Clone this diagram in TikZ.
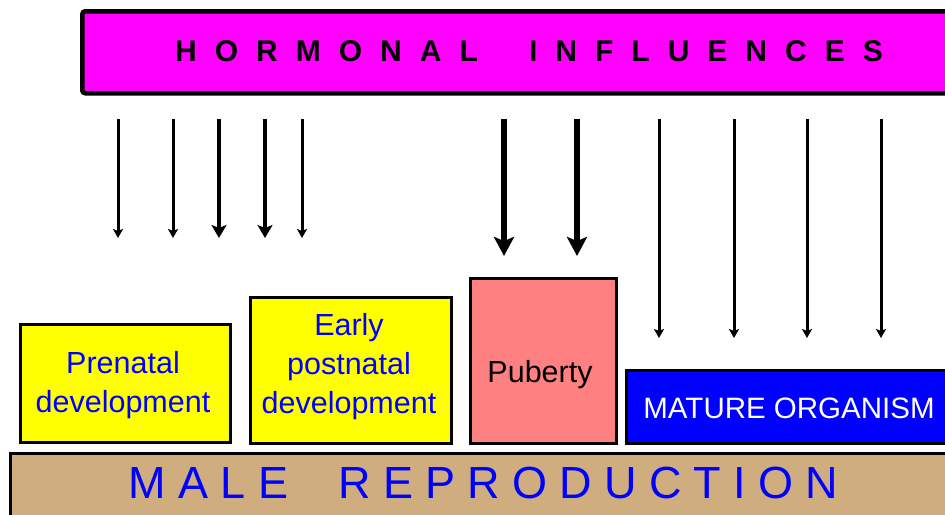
\documentclass[tikz,border=0pt]{standalone}
\usepackage{fontspec}
\setmainfont{Liberation Sans}
\usetikzlibrary{arrows.meta}
\definecolor{magentaC}{HTML}{FF00FF}
\definecolor{tanC}{HTML}{CFAD7F}
\definecolor{salmonC}{HTML}{FF8080}
\definecolor{blueC}{HTML}{0000FF}
\definecolor{yellowC}{HTML}{FFFF00}
\newcommand\tgap{\kern18pt}
\newcommand\bgap{\kern12.2pt}
\begin{document}
\begin{tikzpicture}[x=1pt,y=-1pt,
  box/.style={draw=black, line width=2.5pt, anchor=north west, inner sep=0pt},
  lbl/.style={font=\fontsize{30.5}{39}\selectfont, align=center, inner sep=0pt, anchor=base},
  thinarr/.style={line width=3pt, -{Stealth[length=9pt,width=10pt,inset=2pt]}},
  medarr/.style={line width=4.3pt, -{Stealth[length=13pt,width=15pt,inset=3pt]}},
  bigarr/.style={line width=5.2pt, -{Stealth[length=19pt,width=20pt,inset=4pt]}},
]
\useasboundingbox (0,0) rectangle (945,514);
\clip (0,0) rectangle (945,514);
\fill[white] (0,0) rectangle (945,514);

% banner
\node[box, line width=4.5pt, rounded corners=3pt, fill=magentaC, minimum width=890pt, minimum height=82pt] (banner) at (80,9) {};
\node[anchor=base west, inner sep=0pt, font=\bfseries\fontsize{30}{36}\selectfont] (title) at (175,61)
  {H\tgap O\tgap R\tgap M\tgap O\tgap N\tgap A\tgap L\kern51.3pt I\tgap N\tgap F\tgap L\tgap U\tgap E\tgap N\tgap C\tgap E\tgap S};

% boxes
\node[box, fill=yellowC, minimum width=210pt, minimum height=118pt] (pre) at (19,323) {};
\node[box, fill=yellowC, minimum width=201pt, minimum height=146pt] (early) at (249,296) {};
\node[box, fill=salmonC, minimum width=146pt, minimum height=165pt] (pub) at (469,277) {};
\node[box, fill=blueC, minimum width=340pt, minimum height=73pt] (mature) at (625,369) {};
\node[box, line width=3pt, fill=tanC, minimum width=960pt, minimum height=80pt] (bar) at (9,452) {};

% labels (base anchor = baseline of last line)
\node[lbl, text=blueC] (preT) at (123,412) {Prenatal\\development};
\node[lbl, text=blueC] (earlyT) at (349,413) {Early\\postnatal\\development};
\node[lbl, text=black] (pubT) at (540,382) {Puberty};
\node[lbl, text=white, font=\fontsize{29.5}{36}\selectfont] (matureT) at (789,418) {MATURE ORGANISM};
\node[anchor=base west, inner sep=0pt, text=blueC, font=\fontsize{45}{50}\selectfont] (barT) at (128.7,498)
  {M\bgap A\bgap L\bgap E\kern50.7pt R\bgap E\bgap P\bgap R\bgap O\bgap D\bgap U\bgap C\bgap T\bgap I\bgap O\bgap N};

% arrows
\foreach \n/\x/\y/\s in {1/118/238/thinarr, 2/173/238/thinarr, 3/219/238/medarr, 4/265/238/medarr, 5/302/238/thinarr,
                       6/504/256/bigarr, 7/577/256/bigarr,
                       8/659/338/thinarr, 9/734/338/thinarr, 10/807/338/thinarr, 11/881/338/thinarr}{
  \coordinate (s\n) at (\x,119);
  \coordinate (e\n) at (\x,\y);
  \draw[\s] (s\n) -- (e\n);
}
\end{tikzpicture}
\end{document}
